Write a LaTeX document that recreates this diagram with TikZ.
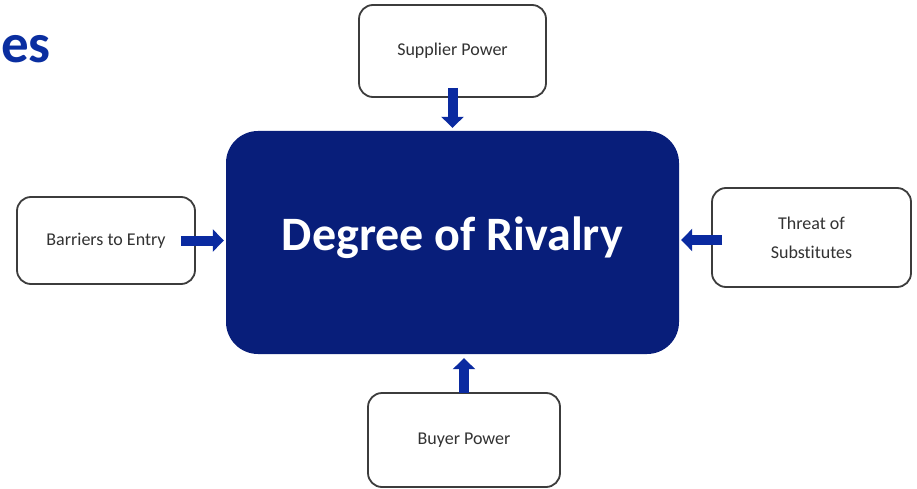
\documentclass[tikz,border=0pt]{standalone}
\usepackage{fontspec}
\setmainfont{Carlito}[Ligatures=NoCommon]
\usetikzlibrary{arrows.meta}
\definecolor{mainblue}{RGB}{8,30,122}
\definecolor{arrowblue}{RGB}{10,42,160}
\definecolor{titleblue}{RGB}{10,46,160}
\definecolor{boxline}{RGB}{60,60,60}
\definecolor{boxtext}{RGB}{50,50,50}
\tikzset{
  forcebox/.style={draw=boxline, line width=1.8pt, rounded corners=14pt, fill=white,
    font=\fontsize{18}{29}\selectfont, text=boxtext, align=center, inner sep=0pt},
  blockarrow/.style={line width=10pt, draw=arrowblue,
    -{Triangle[width=22pt,length=11pt,fill=arrowblue]}}
}
\begin{document}
\begin{tikzpicture}[x=1pt,y=-1pt]
\useasboundingbox (0,0) rectangle (917,489);
\node[font=\fontsize{55}{60}\bfseries\selectfont, text=titleblue, anchor=base east, inner sep=0pt] (title) at (51,63) {es};
\node[fill=mainblue, rounded corners=32pt, minimum width=453pt, minimum height=223pt, inner sep=0pt] (main) at (452.5,242.5) {};
\node[text=white, font=\fontsize{48}{50}\bfseries\selectfont, inner sep=0pt] (maintext) at (452.5,238) {Degree of Rivalry};
\node[forcebox, minimum width=187pt, minimum height=92pt] (sup) at (452.5,51) {Supplier Power};
\node[forcebox, minimum width=178pt, minimum height=87pt] (bar) at (106,240.5) {Barriers to Entry};
\node[forcebox, minimum width=199pt, minimum height=99pt] (thr) at (811.5,237.5) {Threat of\\Substitutes};
\node[forcebox, minimum width=192pt, minimum height=94pt] (buy) at (464,440) {Buyer Power};
\draw[blockarrow] ([yshift=10pt]sup.south) -- ([yshift=3pt]sup.south |- main.north);
\draw[blockarrow] ([xshift=-15pt]bar.east) -- ([xshift=-2pt]main.west |- bar.east);
\draw[blockarrow] ([xshift=11pt,yshift=-2.5pt]thr.west) -- ([xshift=2pt,yshift=-2.5pt]main.east |- thr.west);
\draw[blockarrow] ([yshift=-1pt]buy.north) -- ([yshift=-4pt]buy.north |- main.south);
\end{tikzpicture}
\end{document}
